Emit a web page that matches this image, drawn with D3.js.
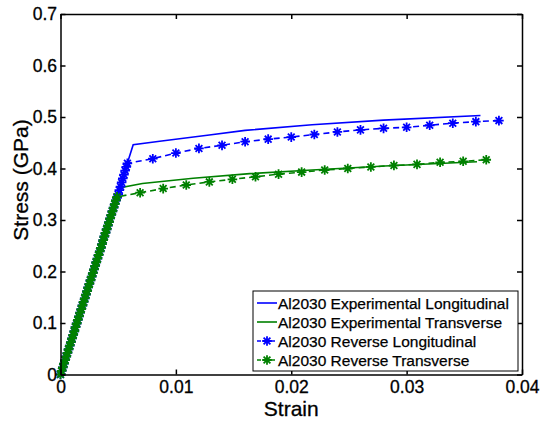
<!DOCTYPE html>
<html>
<head>
<meta charset="utf-8">
<script src="https://cdn.jsdelivr.net/npm/d3@7"></script>
<style>
  body { margin: 0; background: #fff; }
  svg { font-family: "Liberation Sans", Arial, Helvetica, sans-serif; }
  svg text { stroke: #000; stroke-width: 0.3; }
  .axis text { font-size: 17.5px; fill: #000; }
  .axis path, .axis line { stroke: #000; stroke-width: 1.5; }
  .label { font-size: 21px; fill: #000; }
  .legend text { font-size: 15.5px; fill: #000; stroke-width: 0.25; }
</style>
</head>
<body>
<div class="chart"></div>
<script>
var svgWidth = 542;
var svgHeight = 421;

var margin = { top: 14, right: 20, bottom: 46.5, left: 60.5 };
var chartWidth = svgWidth - margin.left - margin.right;
var chartHeight = svgHeight - margin.top - margin.bottom;

// tick values
var strainTicks = [0, 0.01, 0.02, 0.03, 0.04];
var stressTicks = [0, 0.1, 0.2, 0.3, 0.4, 0.5, 0.6, 0.7];

var seriesNames = [
  "Al2030 Experimental Longitudinal",
  "Al2030 Experimental Transverse",
  "Al2030 Reverse Longitudinal",
  "Al2030 Reverse Transverse"
];

// experimental curves (solid)
var expLongStrain = [0, 0.0063, 0.0086, 0.0129, 0.0160, 0.0218, 0.0280, 0.0364];
var expLongStress = [0, 0.446, 0.453, 0.465, 0.474, 0.485, 0.494, 0.503];

var expTransStrain = [0, 0.0053, 0.0071, 0.0115, 0.0164, 0.0218, 0.0281, 0.0361];
var expTransStress = [0, 0.363, 0.371, 0.381, 0.390, 0.397, 0.405, 0.413];

// reverse curves (dashed with asterisks), elastic part is densely sampled
var revLongStrain = [0, 0.0001, 0.0002, 0.0003, 0.0004, 0.0005, 0.0006, 0.0007, 0.0008, 0.0009,
  0.0010, 0.0011, 0.0012, 0.0013, 0.0014, 0.0015, 0.0016, 0.0017, 0.0018, 0.0019,
  0.0020, 0.0021, 0.0022, 0.0023, 0.0024, 0.0025, 0.0026, 0.0027, 0.0028, 0.0029,
  0.0030, 0.0031, 0.0032, 0.0033, 0.0034, 0.0035, 0.0036, 0.0037, 0.0038, 0.0039,
  0.0040, 0.0041, 0.0042, 0.0043, 0.0044, 0.0045, 0.0046, 0.0047, 0.0048, 0.0049,
  0.0050, 0.0051, 0.0052, 0.0053, 0.0054, 0.0055, 0.0056, 0.0057, 0.0058,
  0.008, 0.010, 0.012, 0.014, 0.016, 0.018, 0.020, 0.022, 0.024, 0.026,
  0.028, 0.030, 0.032, 0.034, 0.036, 0.038];
var revLongStress = [0, 0.007, 0.014, 0.021, 0.028, 0.035, 0.042, 0.049, 0.056, 0.063,
  0.070, 0.077, 0.084, 0.092, 0.099, 0.106, 0.113, 0.120, 0.127, 0.134,
  0.141, 0.148, 0.155, 0.162, 0.169, 0.176, 0.183, 0.190, 0.197, 0.204,
  0.211, 0.218, 0.225, 0.232, 0.239, 0.246, 0.253, 0.261, 0.268, 0.275,
  0.282, 0.289, 0.296, 0.303, 0.310, 0.317, 0.324, 0.331, 0.338, 0.343,
  0.350, 0.358, 0.365, 0.373, 0.381, 0.388, 0.396, 0.403, 0.410,
  0.419, 0.430, 0.439, 0.445, 0.452, 0.457, 0.461, 0.466, 0.471, 0.475,
  0.478, 0.480, 0.484, 0.488, 0.491, 0.493];

var revTransStrain = [0, 0.0001, 0.0002, 0.0003, 0.0004, 0.0005, 0.0006, 0.0007, 0.0008, 0.0009,
  0.0010, 0.0011, 0.0012, 0.0013, 0.0014, 0.0015, 0.0016, 0.0017, 0.0018, 0.0019,
  0.0020, 0.0021, 0.0022, 0.0023, 0.0024, 0.0025, 0.0026, 0.0027, 0.0028, 0.0029,
  0.0030, 0.0031, 0.0032, 0.0033, 0.0034, 0.0035, 0.0036, 0.0037, 0.0038, 0.0039,
  0.0040, 0.0041, 0.0042, 0.0043, 0.0044, 0.0045, 0.0046, 0.0047, 0.0048, 0.0049,
  0.0069, 0.0089, 0.0109, 0.0129, 0.0149, 0.0169, 0.0189, 0.0209, 0.0229, 0.0249,
  0.0269, 0.0289, 0.0309, 0.0329, 0.0349, 0.0369];
var revTransStress = [0, 0.007, 0.014, 0.021, 0.028, 0.035, 0.042, 0.049, 0.056, 0.063,
  0.070, 0.077, 0.084, 0.092, 0.099, 0.106, 0.113, 0.120, 0.127, 0.134,
  0.141, 0.148, 0.155, 0.162, 0.169, 0.176, 0.183, 0.190, 0.197, 0.204,
  0.211, 0.218, 0.225, 0.232, 0.239, 0.246, 0.253, 0.261, 0.268, 0.275,
  0.282, 0.289, 0.296, 0.303, 0.310, 0.317, 0.324, 0.331, 0.338, 0.345,
  0.353, 0.361, 0.368, 0.374, 0.379, 0.384, 0.389, 0.393, 0.397, 0.400,
  0.403, 0.406, 0.408, 0.412, 0.414, 0.417];

var blue = "#0000ff";
var green = "#008000";

function zip(xs, ys) {
  return xs.map(function(x, i) { return { strain: x, stress: ys[i] }; });
}

var series = [
  { name: seriesNames[0], color: blue,  dashed: false, marker: false, data: zip(expLongStrain, expLongStress) },
  { name: seriesNames[1], color: green, dashed: false, marker: false, data: zip(expTransStrain, expTransStress) },
  { name: seriesNames[2], color: blue,  dashed: true,  marker: true,  data: zip(revLongStrain, revLongStress) },
  { name: seriesNames[3], color: green, dashed: true,  marker: true,  data: zip(revTransStrain, revTransStress) }
];

var svg = d3.select(".chart")
  .append("svg")
  .attr("width", svgWidth)
  .attr("height", svgHeight);

var chart = svg.append("g")
  .attr("transform", "translate(" + margin.left + "," + margin.top + ")");

var xLinearScale = d3.scaleLinear().domain([0, 0.04]).range([0, chartWidth]);
var yLinearScale = d3.scaleLinear().domain([0, 0.7]).range([chartHeight, 0]);

// asterisk marker like matlab '*'
function starPath(r) {
  var d = r * 0.707;
  return "M" + (-r) + ",0H" + r + "M0," + (-r) + "V" + r +
    "M" + (-d) + "," + (-d) + "L" + d + "," + d +
    "M" + (-d) + "," + d + "L" + d + "," + (-d);
}

var line = d3.line()
  .x(function(d) { return xLinearScale(d.strain); })
  .y(function(d) { return yLinearScale(d.stress); });

var plot = chart.append("g");

series.forEach(function(s) {
  plot.append("path")
    .datum(s.data)
    .attr("d", line)
    .attr("fill", "none")
    .attr("stroke", s.color)
    .attr("stroke-width", 1.6)
    .attr("stroke-dasharray", s.dashed ? "6,4" : null);

  if (s.marker) {
    plot.selectAll(null)
      .data(s.data)
      .enter()
      .append("path")
      .attr("transform", function(d) {
        return "translate(" + xLinearScale(d.strain) + "," + yLinearScale(d.stress) + ")";
      })
      .attr("d", starPath(4.8))
      .attr("fill", "none")
      .attr("stroke", s.color)
      .attr("stroke-width", 1.8);
  }
});

// axes with inward ticks on all four sides
chart.append("g")
  .attr("class", "axis")
  .attr("transform", "translate(0," + chartHeight + ")")
  .call(d3.axisBottom(xLinearScale).tickValues(strainTicks).tickFormat(d3.format("~g"))
    .tickSizeInner(-5).tickSizeOuter(0).tickPadding(6.5));

chart.append("g")
  .attr("class", "axis")
  .call(d3.axisLeft(yLinearScale).tickValues(stressTicks).tickFormat(d3.format("~g"))
    .tickSizeInner(-5).tickSizeOuter(0).tickPadding(3.5));

chart.append("g")
  .attr("class", "axis")
  .call(d3.axisTop(xLinearScale).tickValues(strainTicks).tickFormat("")
    .tickSizeInner(-5).tickSizeOuter(0));

chart.append("g")
  .attr("class", "axis")
  .attr("transform", "translate(" + chartWidth + ",0)")
  .call(d3.axisRight(yLinearScale).tickValues(stressTicks).tickFormat("")
    .tickSizeInner(-5).tickSizeOuter(0));

// axis labels
chart.append("text")
  .attr("class", "label")
  .attr("x", chartWidth / 2)
  .attr("y", chartHeight + 41)
  .style("text-anchor", "middle")
  .text("Strain");

chart.append("text")
  .attr("class", "label")
  .attr("transform", "rotate(-90)")
  .attr("x", -(166))
  .attr("y", -(margin.left - 28))
  .style("text-anchor", "middle")
  .text("Stress (GPa)");

// legend
var legend = chart.append("g")
  .attr("class", "legend")
  .attr("transform", "translate(" + (253 - margin.left) + "," + (291 - margin.top) + ")");

legend.append("rect")
  .attr("width", 265)
  .attr("height", 80)
  .attr("fill", "#fff")
  .attr("stroke", "#000")
  .attr("stroke-width", 1);

series.forEach(function(s, i) {
  var row = legend.append("g")
    .attr("transform", "translate(0," + (12 + i * 19) + ")");
  row.append("line")
    .attr("x1", 4).attr("x2", 24)
    .attr("stroke", s.color)
    .attr("stroke-width", 1.6)
    .attr("stroke-dasharray", s.dashed ? "4,3" : null);
  if (s.marker) {
    row.append("path")
      .attr("transform", "translate(14,0)")
      .attr("d", starPath(4.8))
      .attr("fill", "none")
      .attr("stroke", s.color)
      .attr("stroke-width", 1.8);
  }
  row.append("text")
    .attr("x", 25)
    .attr("dy", "0.36em")
    .text(s.name);
});
</script>
</body>
</html>
